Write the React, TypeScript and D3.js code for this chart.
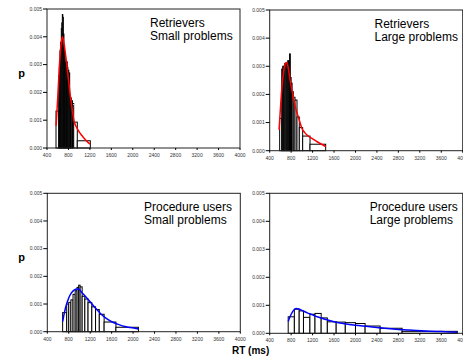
import React from "react";
import * as d3 from "d3";

// RT histograms (bin edges in ms, density p per bin) and fitted curves

const retSmallEdges = [568, 618, 630, 642, 654, 667, 676, 686, 695, 705, 716, 728, 740, 752, 765, 778, 790, 806, 823, 838, 854, 876, 898, 965, 1208];
const retSmallP = [0.00133, 0.0026, 0.0029, 0.0035, 0.0038, 0.0043, 0.0045, 0.0048, 0.0047, 0.0041, 0.0037, 0.0034, 0.0031, 0.003, 0.0031, 0.0029, 0.0028, 0.0027, 0.0019, 0.0018, 0.0017, 0.0016, 0.00093, 0.00026];
const retSmallFitRT = [570, 600, 630, 660, 690, 720, 750, 780, 810, 840, 870, 900, 950, 1000, 1050, 1100, 1150, 1200];
const retSmallFitP = [0.0008, 0.0018, 0.0029, 0.0037, 0.004, 0.0037, 0.0033, 0.0028, 0.0023, 0.0018, 0.0014, 0.001, 0.00075, 0.00058, 0.00045, 0.00033, 0.00023, 0.00014];

const retLargeEdges = [586, 624, 642, 660, 680, 700, 718, 736, 754, 770, 785, 800, 818, 840, 872, 909, 952, 1015, 1152, 1444];
const retLargeP = [0.00115, 0.0029, 0.003, 0.003, 0.0031, 0.0031, 0.0031, 0.0032, 0.0031, 0.00344, 0.0026, 0.0024, 0.0021, 0.0019, 0.0018, 0.0012, 0.00082, 0.00052, 0.00023];
const retLargeFitRT = [575, 600, 630, 660, 690, 717, 750, 780, 810, 840, 870, 900, 950, 1000, 1050, 1100, 1200, 1300, 1444];
const retLargeFitP = [0.00074, 0.0015, 0.0023, 0.0028, 0.0031, 0.00313, 0.0029, 0.0025, 0.0022, 0.0019, 0.00163, 0.0014, 0.0011, 0.0008, 0.00065, 0.00055, 0.00042, 0.0003, 0.00015];

const procSmallEdges = [686, 762, 800, 840, 880, 920, 955, 985, 1012, 1050, 1100, 1160, 1230, 1300, 1370, 1460, 1680, 2100];
const procSmallP = [0.00069, 0.001, 0.00106, 0.00115, 0.00135, 0.00148, 0.0016, 0.00168, 0.00162, 0.00128, 0.00118, 0.00105, 0.0009, 0.0008, 0.00063, 0.00035, 0.00016];
const procSmallFitRT = [686, 720, 760, 800, 850, 900, 950, 985, 1050, 1100, 1200, 1300, 1400, 1500, 1600, 1700, 1800, 1950, 2100];
const procSmallFitP = [0.00036, 0.0007, 0.001, 0.00122, 0.0014, 0.0015, 0.00154, 0.00154, 0.0014, 0.0013, 0.00108, 0.00085, 0.00064, 0.00048, 0.00036, 0.00028, 0.00021, 0.00015, 0.0001];

const procLargeEdges = [745, 860, 950, 1030, 1150, 1245, 1360, 1475, 1640, 1810, 2000, 2180, 2460, 2870, 3900];
const procLargeP = [0.00059, 0.00086, 0.0008, 0.00057, 0.00068, 0.00071, 0.00055, 0.00041, 0.0004, 0.00038, 0.00035, 0.00026, 0.00018, 0.00007];
const procLargeFitRT = [745, 800, 860, 900, 950, 1000, 1100, 1200, 1300, 1400, 1600, 1800, 2000, 2200, 2400, 2600, 2800, 3000, 3300, 3600, 3900];
const procLargeFitP = [0.00042, 0.00068, 0.00085, 0.00089, 0.00086, 0.00082, 0.00073, 0.00066, 0.00058, 0.00052, 0.00041, 0.00034, 0.00029, 0.00025, 0.00021, 0.00017, 0.00014, 0.00012, 0.00008, 0.00006, 0.00004];

const xTicks = [400, 800, 1200, 1600, 2000, 2400, 2800, 3200, 3600, 4000];
const yTicks = [0, 0.001, 0.002, 0.003, 0.004, 0.005];

const FONT = "'Liberation Sans', Arial, sans-serif";

interface PanelProps {
  left: number;
  top: number;
  right: number;
  bottom: number;
  edges: number[];
  p: number[];
  fitRT: number[];
  fitP: number[];
  color: string;
  title: string[];
  titleX: number;
}

const Panel: React.FC<PanelProps> = ({ left, top, right, bottom, edges, p, fitRT, fitP, color, title, titleX }) => {
  const x = d3.scaleLinear().domain([400, 4000]).range([left, right]);
  const y = d3.scaleLinear().domain([0, 0.005]).range([bottom, top]);
  const line = d3
    .line<number>()
    .x((d) => x(d))
    .y((_, i) => y(fitP[i]))
    .curve(d3.curveMonotoneX);
  const fmt = d3.format(".3f");

  return (
    <g>
      {/* histogram bars */}
      {p.map((v, i) => (
        <rect
          key={i}
          x={x(edges[i])}
          y={y(v)}
          width={x(edges[i + 1]) - x(edges[i])}
          height={y(0) - y(v)}
          fill="white"
          stroke="black"
          strokeWidth={1}
        />
      ))}
      <path d={line(fitRT) || ""} fill="none" stroke={color} strokeWidth={1.5} />

      {/* frame */}
      <rect x={left} y={top} width={right - left} height={bottom - top} fill="none" stroke="#222" strokeWidth={1} />

      {yTicks.map((t) => (
        <g key={t}>
          <line x1={left - 4} x2={left} y1={y(t)} y2={y(t)} stroke="black" />
          <text x={left - 5} y={y(t) + 1.8} fontSize={5} textAnchor="end" fill="#333" fontFamily={FONT}>
            {fmt(t)}
          </text>
        </g>
      ))}
      {xTicks.map((t) => (
        <g key={t}>
          <line x1={x(t)} x2={x(t)} y1={bottom} y2={bottom + 2} stroke="black" />
          <text x={x(t)} y={bottom + 9} fontSize={5} textAnchor="middle" fill="#333" fontFamily={FONT}>
            {t}
          </text>
        </g>
      ))}

      {title.map((s, i) => (
        <text key={s} x={titleX} y={top + 17.5 + i * 13} fontSize={12} fontFamily={FONT} fill="black">
          {s}
        </text>
      ))}
    </g>
  );
};

export default function App() {
  return (
    <svg width={463} height={357} style={{ position: "absolute", left: 0, top: 0 }}>
      <rect width={463} height={357} fill="white" />
      <Panel
        left={47} top={9} right={240} bottom={148}
        edges={retSmallEdges} p={retSmallP} fitRT={retSmallFitRT} fitP={retSmallFitP}
        color="#ff0000" title={["Retrievers", "Small problems"]} titleX={150}
      />
      <Panel
        left={269.7} top={10} right={462.7} bottom={150.7}
        edges={retLargeEdges} p={retLargeP} fitRT={retLargeFitRT} fitP={retLargeFitP}
        color="#ff0000" title={["Retrievers", "Large problems"]} titleX={374.5}
      />
      <Panel
        left={47.3} top={193.3} right={240.3} bottom={331.7}
        edges={procSmallEdges} p={procSmallP} fitRT={procSmallFitRT} fitP={procSmallFitP}
        color="#0000ff" title={["Procedure users", "Small problems"]} titleX={144}
      />
      <Panel
        left={269.7} top={193.3} right={462.7} bottom={333.3}
        edges={procLargeEdges} p={procLargeP} fitRT={procLargeFitRT} fitP={procLargeFitP}
        color="#0000ff" title={["Procedure users", "Large problems"]} titleX={369.7}
      />
      <text x={21.5} y={77} fontSize={11} fontWeight="bold" textAnchor="middle" fontFamily={FONT}>p</text>
      <text x={21.5} y={261} fontSize={11} fontWeight="bold" textAnchor="middle" fontFamily={FONT}>p</text>
      <text x={232} y={354} fontSize={10} fontWeight="bold" fontFamily={FONT}>RT (ms)</text>
    </svg>
  );
}
